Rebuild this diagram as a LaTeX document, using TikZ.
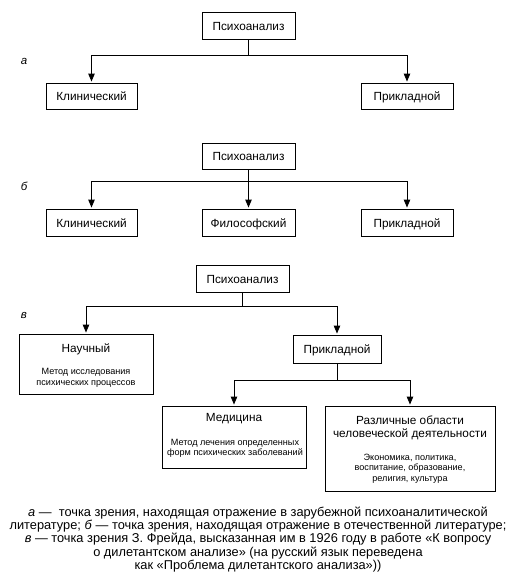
\documentclass[tikz,border=0pt]{standalone}
\usepackage{fontspec}
\setmainfont{Liberation Sans}
\usetikzlibrary{arrows.meta}
\begin{document}
\begin{tikzpicture}[x=1pt,y=-1pt,
  box/.style={draw, line width=0.9pt, inner sep=0pt, text height=9.5pt, text depth=0.5pt,
    font=\fontsize{11.8}{13}\selectfont},
  bigbox/.style={draw, line width=0.9pt, inner sep=0pt},
  ttl/.style={inner sep=0pt, align=center, font=\fontsize{11.8}{13}\selectfont},
  body/.style={inner sep=0pt, align=center, font=\fontsize{9.1}{10.5}\selectfont},
  lbl/.style={inner sep=0pt, anchor=base, font=\fontsize{11.5}{13}\selectfont\itshape},
  line/.style={line width=0.9pt},
  arr/.style={line width=0.9pt, -{Triangle[length=8pt,width=6.5pt]}, shorten >=1pt}
]
\useasboundingbox (0,0) rectangle (516,582);

% ---------- a ----------
\node[lbl] (la) at (24,64) {а};
\node[box, minimum width=93pt, minimum height=27pt] (P1) at (248.5,26) {Психоанализ};
\node[box, minimum width=91pt, minimum height=26pt] (K1) at (91.5,96) {Клинический};
\node[box, minimum width=92pt, minimum height=26pt] (R1) at (407,96) {Прикладной};
\coordinate (j1) at (248.5,55);
\draw[line] (P1.south) -- (j1);
\draw[arr] (j1) -| (K1.north);
\draw[arr] (j1) -| (R1.north);

% ---------- b ----------
\node[lbl] (lb) at (24,190) {б};
\node[box, minimum width=93pt, minimum height=26pt] (P2) at (248.5,156) {Психоанализ};
\node[box, minimum width=91pt, minimum height=27pt] (K2) at (91.5,222.5) {Клинический};
\node[box, minimum width=93pt, minimum height=27pt] (F2) at (248.5,222.5) {Философский};
\node[box, minimum width=92pt, minimum height=27pt] (R2) at (407,222.5) {Прикладной};
\coordinate (j2) at (248.5,181);
\draw[arr] (P2.south) -- (F2.north);
\draw[arr] (j2) -| (K2.north);
\draw[arr] (j2) -| (R2.north);

% ---------- c ----------
\node[lbl] (lc) at (24,318) {в};
\node[box, minimum width=93pt, minimum height=27pt] (P3) at (242.5,278.5) {Психоанализ};
\node[bigbox, minimum width=134pt, minimum height=60pt] (N3) at (86,364) {};
\node[ttl] (N3t) at (86,349) {Научный};
\node[body] (N3b) at (86,378) {Метод исследования\\психических процессов};
\node[box, minimum width=88pt, minimum height=28pt] (R3) at (337,349) {Прикладной};
\coordinate (j3) at (242.5,306);
\draw[line] (P3.south) -- (j3);
\draw[arr] (j3) -| (N3.north);
\draw[arr] (j3) -| (R3.north);

\node[bigbox, minimum width=144pt, minimum height=62pt] (M3) at (234,437) {};
\node[ttl] (M3t) at (234,419) {Медицина};
\node[body] (M3b) at (235,448.5) {Метод лечения определенных\\форм психических заболеваний};
\node[bigbox, minimum width=170pt, minimum height=85pt] (D3) at (410,448.5) {};
\node[ttl] (D3t) at (410,427.5) {Различные области\\человеческой деятельности};
\node[body] (D3b) at (410,468.5) {Экономика, политика,\\воспитание, образование,\\религия, культура};
\coordinate (j4) at (337,380);
\draw[line] (R3.south) -- (j4);
\draw[arr] (j4) -| (M3.north);
\draw[arr] (j4) -| (D3.north);

% ---------- caption ----------
\node[inner sep=0pt, align=center, font=\fontsize{12.8}{12}\selectfont] (cap) at (258,539.5)
{\textit{а} —\ \ точка зрения, находящая отражение в зарубежной психоаналитической\\
литературе; \textit{б} — точка зрения, находящая отражение в отечественной литературе;\\
\textit{в} — точка зрения З. Фрейда, высказанная им в 1926 году в работе «К вопросу\\
о дилетантском анализе» (на русский язык переведена\\
как «Проблема дилетантского анализа»))};
\end{tikzpicture}
\end{document}
